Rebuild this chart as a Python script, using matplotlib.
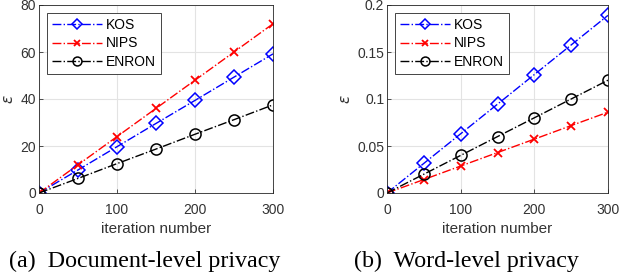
import matplotlib
matplotlib.use('Agg')
import matplotlib.pyplot as plt

# iteration numbers shared by both panels
iterations = [0, 50, 100, 150, 200, 250, 300]

# (a) document-level privacy
doc_kos = [0, 9.8, 19.7, 29.6, 39.4, 49.3, 59.2]
doc_nips = [0, 12.0, 24.0, 36.0, 48.0, 60.0, 72.0]
doc_enron = [0, 6.2, 12.5, 18.7, 25.0, 31.2, 37.5]

# (b) word-level privacy
word_kos = [0, 0.0315, 0.063, 0.0945, 0.126, 0.1575, 0.189]
word_nips = [0, 0.0143, 0.0287, 0.043, 0.0573, 0.0717, 0.086]
word_enron = [0, 0.02, 0.04, 0.06, 0.08, 0.10, 0.12]

doc_yticks = [0, 20, 40, 60, 80]
word_yticks = [0, 0.05, 0.1, 0.15, 0.2]
word_yticklabels = ['0', '0.05', '0.1', '0.15', '0.2']
xticks = [0, 100, 200, 300]

plt.rcParams['font.family'] = ['Liberation Sans', 'DejaVu Sans']
tick_color = '#333333'


def draw_panel(ax, kos, nips, enron, yticks, yticklabels):
    ax.plot(iterations, kos, '-.', color='#0000ff', marker='D', markersize=7,
            markerfacecolor='none', markeredgewidth=1.1, linewidth=1.0, label='KOS')
    ax.plot(iterations, nips, '-.', color='#ff0000', marker='x', markersize=6,
            markeredgewidth=1.3, linewidth=1.0, label='NIPS')
    ax.plot(iterations, enron, '-.', color='#000000', marker='o', markersize=8,
            markerfacecolor='none', markeredgewidth=1.1, linewidth=1.0, label='ENRON')
    ax.set_xlim(0, 300)
    ax.set_ylim(yticks[0], yticks[-1])
    ax.set_xticks(xticks)
    ax.set_yticks(yticks)
    ax.set_yticklabels(yticklabels)
    ax.grid(True, color='#e3e3e3', linewidth=0.8)
    ax.set_axisbelow(True)
    for s in ax.spines.values():
        s.set_color('#262626')
        s.set_linewidth(0.6)
    ax.tick_params(labelsize=10, colors=tick_color, direction='in', length=3, width=0.6)
    ax.tick_params(axis='x', pad=7)
    ax.tick_params(axis='y', pad=2)
    ax.set_xlabel('iteration number', fontsize=11, color=tick_color, labelpad=4)
    ax.set_ylabel(r'$\epsilon$', fontsize=11, color=tick_color, labelpad=3)
    leg = ax.legend(loc='upper left', fontsize=10, fancybox=False, framealpha=1,
                    edgecolor='#262626', handlelength=3.6, borderpad=0.4,
                    labelspacing=0.3, handletextpad=0.25, borderaxespad=0.55,
                    markerscale=0.8)
    leg.get_frame().set_linewidth(0.6)


fig = plt.figure(figsize=(6.2, 2.72), dpi=100)
ax1 = fig.add_axes([39 / 620, 1 - 193 / 272, 234 / 620, 188 / 272])
ax2 = fig.add_axes([387 / 620, 1 - 193 / 272, 221 / 620, 188 / 272])

draw_panel(ax1, doc_kos, doc_nips, doc_enron, doc_yticks, [str(t) for t in doc_yticks])
draw_panel(ax2, word_kos, word_nips, word_enron, word_yticks, word_yticklabels)

fig.text(145 / 620, 1 - 261 / 272, '(a)  Document-level privacy', ha='center', va='center',
         fontsize=17.3, family='Liberation Serif')
fig.text(466 / 620, 1 - 261 / 272, '(b)  Word-level privacy', ha='center', va='center',
         fontsize=17.3, family='Liberation Serif')

fig.savefig('out.png', dpi=100)
